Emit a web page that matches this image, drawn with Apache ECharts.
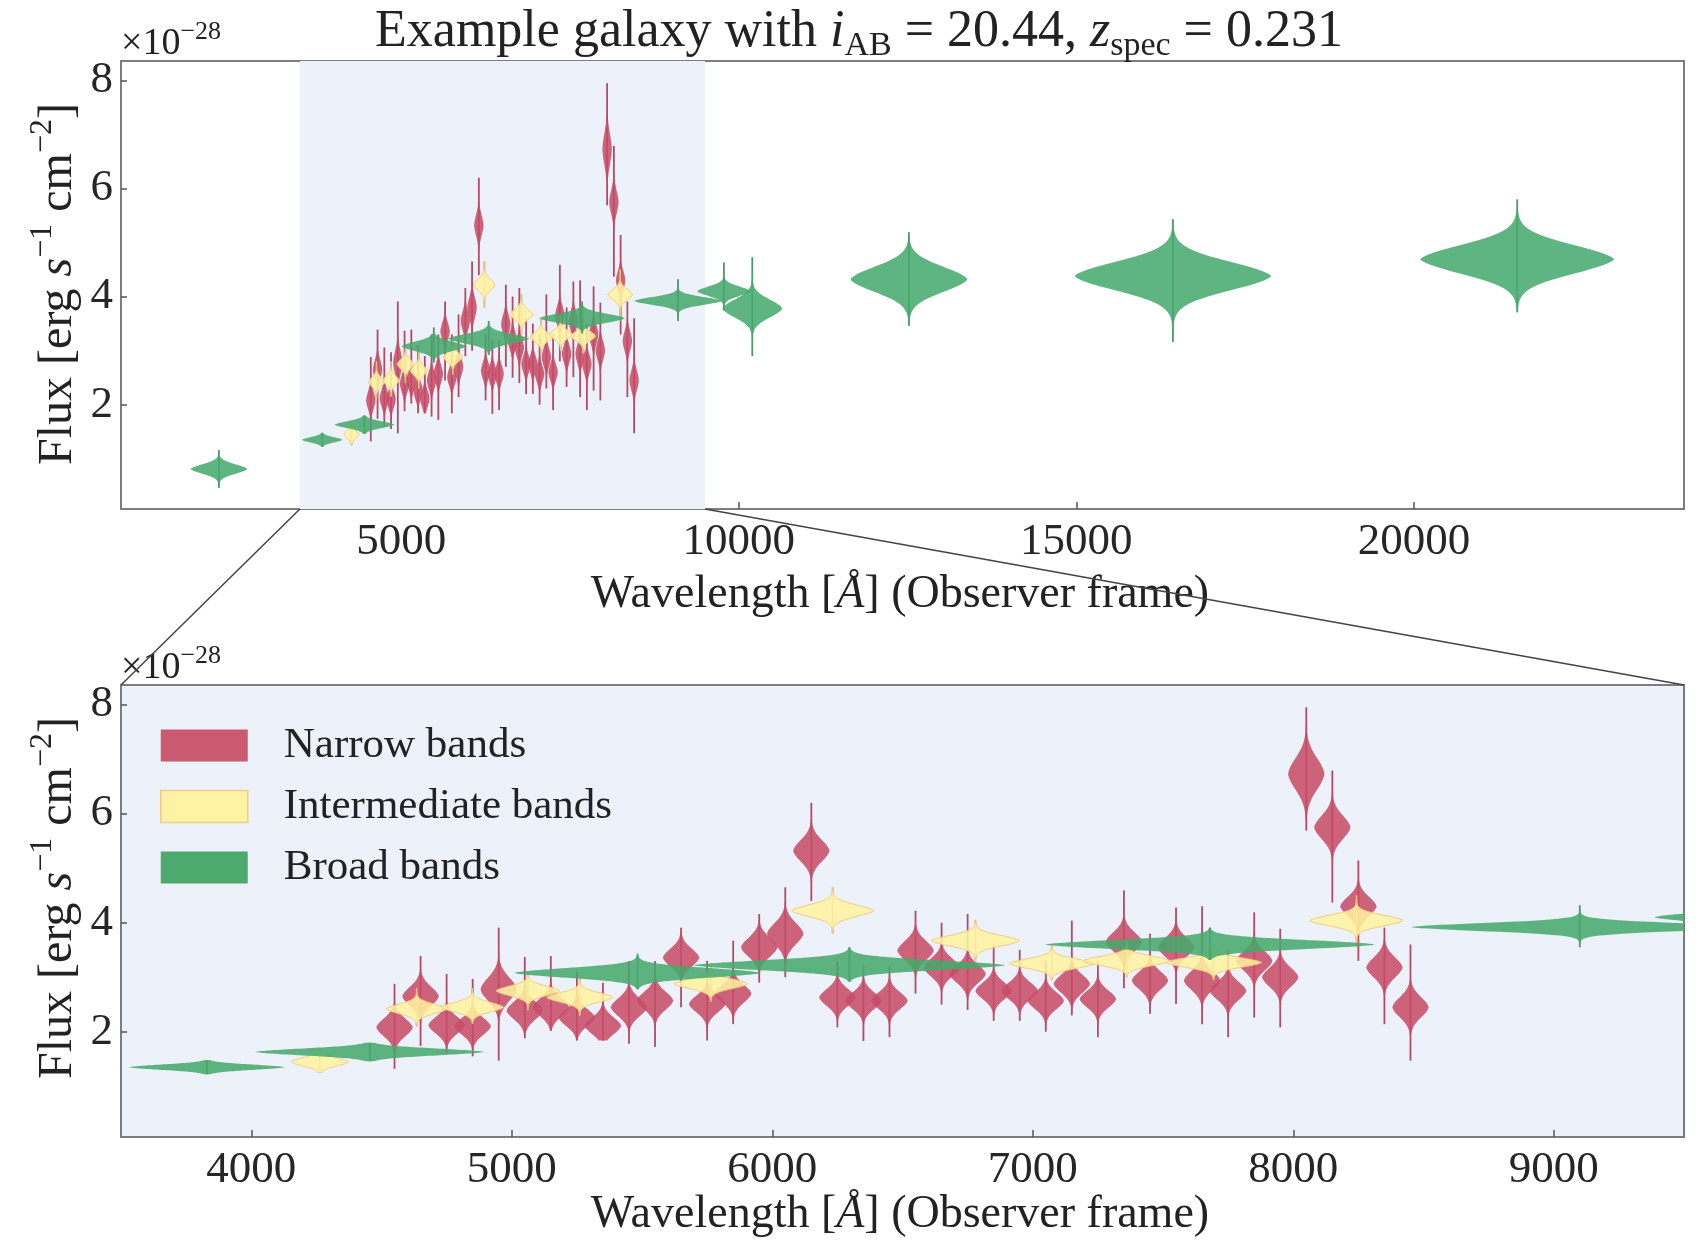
<!DOCTYPE html>
<html>
<head>
<meta charset="utf-8">
<script src="https://cdn.jsdelivr.net/npm/echarts@6/dist/echarts.min.js"></script>
<style>
  html, body { margin: 0; padding: 0; background: #fff; }
  #chart { width: 1696px; height: 1251px; }
</style>
</head>
<body>
<div id="chart"></div>
<script>
// narrow bands: centre wavelength, median flux, spread, extremes (x1e-28)
const nbWave = [4550, 4650, 4750, 4850, 4950, 5050, 5150, 5250, 5350, 5450,
                5550, 5650, 5750, 5850, 5950, 6050, 6150, 6250, 6350, 6450,
                6550, 6650, 6750, 6850, 6950, 7050, 7150, 7250, 7350, 7450,
                7550, 7650, 7750, 7850, 7950, 8050, 8150, 8250, 8350, 8450]
const nbFlux = [2.08, 2.65, 2.12, 2.10, 2.78, 2.39, 2.45, 2.26, 2.11, 2.45,
                2.57, 3.36, 2.51, 2.70, 3.55, 3.80, 5.32, 2.63, 2.57, 2.57,
                3.49, 3.18, 3.06, 2.75, 2.75, 2.57, 2.88, 2.60, 3.65, 2.94,
                3.55, 2.94, 2.75, 3.30, 3.00, 6.73, 5.75, 4.30, 3.18, 2.45]
const nbSigma = [0.17, 0.18, 0.16, 0.16, 0.22, 0.17, 0.17, 0.16, 0.16, 0.17,
                 0.17, 0.17, 0.16, 0.17, 0.18, 0.20, 0.20, 0.16, 0.16, 0.16,
                 0.18, 0.17, 0.17, 0.16, 0.16, 0.16, 0.17, 0.16, 0.18, 0.17,
                 0.18, 0.18, 0.17, 0.18, 0.18, 0.30, 0.22, 0.18, 0.19, 0.19]
const nbLo = [1.32, 1.74, 1.60, 1.55, 1.47, 1.88, 2.02, 1.84, 1.84, 1.78,
              1.72, 2.45, 1.84, 2.14, 2.90, 3.00, 4.40, 2.08, 1.83, 1.90,
              2.70, 2.50, 2.40, 2.20, 2.20, 2.00, 2.30, 1.90, 2.80, 2.33,
              2.51, 2.14, 1.90, 2.26, 2.08, 5.69, 4.37, 3.30, 2.14, 1.47]
const nbHi = [2.88, 3.39, 3.06, 2.97, 3.91, 3.37, 3.39, 3.10, 2.90, 3.30,
              3.30, 3.91, 3.30, 3.67, 4.16, 4.65, 6.20, 3.30, 3.20, 3.20,
              4.22, 4.00, 4.16, 3.60, 3.50, 3.30, 4.04, 3.30, 4.59, 3.80,
              4.28, 4.30, 3.50, 4.19, 3.89, 7.95, 6.79, 5.14, 3.91, 3.60]
const nbWidth = 140

// intermediate bands
const ibWave = [4263, 4635, 4849, 5062, 5261, 5764, 6232, 6780, 7073, 7361, 7694, 8243]
const ibFlux = [1.45, 2.42, 2.45, 2.75, 2.63, 2.88, 4.22, 3.67, 3.25, 3.30, 3.27, 4.04]
const ibWidth = [220, 235, 240, 245, 255, 285, 315, 340, 325, 335, 370, 360]
const ibSigma = [0.08, 0.09, 0.09, 0.09, 0.09, 0.09, 0.11, 0.10, 0.09, 0.09, 0.09, 0.10]
const ibLo = [1.25, 2.10, 2.15, 2.40, 2.30, 2.55, 3.80, 3.30, 2.95, 3.00, 2.95, 3.55]
const ibHi = [1.70, 2.80, 2.80, 3.10, 3.00, 3.20, 4.65, 4.05, 3.60, 3.65, 3.60, 4.50]

// broad bands
const bbWave = [2300, 3830, 4455, 5483, 6296, 7680, 9100, 9780, 10200, 12520, 16430, 21530]
const bbFlux = [0.81, 1.35, 1.63, 3.08, 3.22, 3.60, 3.92, 4.10, 3.78, 4.32, 4.38, 4.69]
const bbWidth = [840, 600, 880, 950, 1200, 1270, 1300, 790, 890, 1735, 2920, 2880]
const bbSigma = [0.09, 0.05, 0.065, 0.09, 0.09, 0.085, 0.075, 0.09, 0.17, 0.24, 0.27, 0.27]
const bbLo = [0.46, 1.22, 1.46, 2.78, 2.92, 3.32, 3.55, 3.75, 2.90, 3.46, 3.16, 3.71]
const bbHi = [1.16, 1.48, 1.80, 3.43, 3.55, 3.91, 4.32, 4.63, 4.73, 5.19, 5.43, 5.80]

// axes
const topRange = [850, 24000]
const zoomRange = [3500, 9500]
const yRange = [0.07, 8.36]
const topTicks = [5000, 10000, 15000, 20000]
const bottomTicks = [4000, 5000, 6000, 7000, 8000, 9000]
const yTicks = [2, 4, 6, 8]

const FONT = '"Liberation Serif", "Times New Roman", serif'
const RED = '#c64c66'
const YELLOW = '#fff3a0'
const GREEN = '#45a96c'
const SHADE = '#edf1f9'

const toRows = (wave, flux, width, sigma, lo, hi) =>
  wave.map((w, i) => [w, flux[i], Array.isArray(width) ? width[i] : width, sigma[i], lo[i], hi[i]])

const nbRows = toRows(nbWave, nbFlux, nbWidth, nbSigma, nbLo, nbHi)
const ibRows = toRows(ibWave, ibFlux, ibWidth, ibSigma, ibLo, ibHi)
const bbRows = toRows(bbWave, bbFlux, bbWidth, bbSigma, bbLo, bbHi)

// violin body + extrema bar, built through the axes
const violin = (fill, stroke, bar) => (params, api) => {
  const wave = api.value(0), flux = api.value(1), width = api.value(2)
  const sig = api.value(3), lo = api.value(4), hi = api.value(5)
  const right = [], left = []
  const n = 90
  for (let k = 0; k <= n; k++) {
    const y = lo + (hi - lo) * k / n
    const z = (y - flux) / sig
    const g = 0.85 * Math.exp(-z * z / 2) + 0.15 * Math.exp(-Math.abs(z))
    const hw = width / 2 * g
    right.push(api.coord([wave + hw, y]))
    left.push(api.coord([wave - hw, y]))
  }
  const top = api.coord([wave, hi])
  const bot = api.coord([wave, lo])
  return {
    type: 'group',
    children: [
      { type: 'line', shape: { x1: top[0], y1: top[1], x2: bot[0], y2: bot[1] },
        style: { stroke: bar, lineWidth: 1.8, opacity: 0.9 } },
      { type: 'polygon', shape: { points: right.concat(left.reverse()) },
        style: { fill: fill, opacity: 0.86, stroke: stroke, lineWidth: stroke ? 1 : 0 } }
    ]
  }
}

const shade = (params, api) => {
  const p0 = api.coord([api.value(0), yRange[1]])
  const p1 = api.coord([api.value(1), yRange[0]])
  return { type: 'rect', shape: { x: p0[0], y: p0[1], width: p1[0] - p0[0], height: p1[1] - p0[1] },
    style: { fill: SHADE } }
}

const makeSeries = (idx) => [
  { name: 'Narrow bands', type: 'custom', xAxisIndex: idx, yAxisIndex: idx, clip: true, z: 3,
    itemStyle: { color: RED }, renderItem: violin(RED, null, '#a83a55'), data: nbRows },
  { name: 'Intermediate bands', type: 'custom', xAxisIndex: idx, yAxisIndex: idx, clip: true, z: 4,
    itemStyle: { color: YELLOW }, renderItem: violin(YELLOW, '#f2c27c', '#c9a86e'), data: ibRows },
  { name: 'Broad bands', type: 'custom', xAxisIndex: idx, yAxisIndex: idx, clip: true, z: 5,
    itemStyle: { color: GREEN }, renderItem: violin(GREEN, null, '#3f8a5c'), data: bbRows }
]

const xAxisBase = (grid, range, ticks) => ({
  type: 'value', gridIndex: grid, min: range[0], max: range[1],
  axisLine: { show: false }, splitLine: { show: false },
  axisTick: { inside: true, length: 7, customValues: ticks, lineStyle: { color: '#555', width: 1.5 } },
  axisLabel: { customValues: ticks, formatter: v => String(v), fontFamily: FONT, fontSize: 45, color: '#262626', margin: 11 }
})
const yAxisBase = (grid) => ({
  type: 'value', gridIndex: grid, min: yRange[0], max: yRange[1],
  axisLine: { show: false }, splitLine: { show: false },
  axisTick: { inside: true, length: 6, customValues: yTicks, lineStyle: { color: '#555', width: 1.5 } },
  axisLabel: { customValues: yTicks, fontFamily: FONT, fontSize: 45, color: '#262626', margin: 8 }
})

const chart = echarts.init(document.getElementById('chart'))
chart.setOption({
  animation: false,
  backgroundColor: '#fff',
  grid: [
    { left: 121, top: 61, width: 1563, height: 448, show: true, borderColor: '#7d7d7d', borderWidth: 2, backgroundColor: 'transparent' },
    { left: 121, top: 685, width: 1563, height: 452, show: true, borderColor: '#7d7d7d', borderWidth: 2, backgroundColor: SHADE }
  ],
  xAxis: [xAxisBase(0, topRange, topTicks), xAxisBase(1, zoomRange, bottomTicks)],
  yAxis: [yAxisBase(0), yAxisBase(1)],
  legend: {
    left: 155, top: 719, orient: 'vertical', icon: 'rect', itemWidth: 87, itemHeight: 32, itemGap: 18,
    selectedMode: false,
    textStyle: { fontFamily: FONT, fontSize: 43, color: '#222', lineHeight: 43, padding: [0, 0, 0, 31] },
    data: [
      { name: 'Narrow bands', itemStyle: { color: '#cb5a70' } },
      { name: 'Intermediate bands', itemStyle: { color: '#fff3a3', borderColor: '#f3c98c', borderWidth: 1.5 } },
      { name: 'Broad bands', itemStyle: { color: '#4caa6e' } }
    ]
  },
  series: [
    { type: 'custom', xAxisIndex: 0, yAxisIndex: 0, z: 1, silent: true, renderItem: shade, data: [zoomRange] },
    ...makeSeries(0),
    ...makeSeries(1)
  ]
})

// text with sub/superscripts, laid out piece by piece
const ctx = document.createElement('canvas').getContext('2d')
function mathText(parts, x, y, align, rotation) {
  let w = 0
  const items = parts.map(p => {
    ctx.font = (p.i ? 'italic ' : '') + p.s + 'px ' + FONT
    const pw = ctx.measureText(p.t).width
    const it = { p: p, x: w }
    w += pw
    return it
  })
  const off = align === 'center' ? -w / 2 : 0
  return {
    type: 'group', x: x, y: y, rotation: rotation || 0, silent: true,
    children: items.map(it => ({
      type: 'text', x: it.x + off, y: it.p.dy || 0,
      style: { text: it.p.t, fontFamily: FONT, fontSize: it.p.s, fontStyle: it.p.i ? 'italic' : 'normal',
        fill: '#222', align: 'left', verticalAlign: 'middle' }
    }))
  }
}

const fluxLabel = [
  { t: 'Flux [erg ', s: 48 }, { t: 's', s: 48, i: true }, { t: '\u22121', s: 32, dy: -15 },
  { t: ' cm', s: 48 }, { t: '\u22122', s: 32, dy: -15 }, { t: ']', s: 48 }
]
const waveLabel = [
  { t: 'Wavelength [', s: 46 }, { t: '\u00c5', s: 46, i: true }, { t: '] (Observer frame)', s: 46 }
]
const offsetLabel = [{ t: '\u00d710', s: 38 }, { t: '\u221228', s: 26, dy: -12 }]

const lt = chart.convertToPixel({ xAxisIndex: 0, yAxisIndex: 0 }, [zoomRange[0], yRange[0]])
const rt = chart.convertToPixel({ xAxisIndex: 0, yAxisIndex: 0 }, [zoomRange[1], yRange[0]])
const lb = chart.convertToPixel({ xAxisIndex: 1, yAxisIndex: 1 }, [zoomRange[0], yRange[1]])
const rb = chart.convertToPixel({ xAxisIndex: 1, yAxisIndex: 1 }, [zoomRange[1], yRange[1]])

chart.setOption({
  graphic: [
    mathText([
      { t: 'Example galaxy with ', s: 52 }, { t: 'i', s: 52, i: true }, { t: 'AB', s: 34, dy: 14 },
      { t: ' = 20.44, ', s: 52 }, { t: 'z', s: 52, i: true }, { t: 'spec', s: 34, dy: 14 },
      { t: ' = 0.231', s: 52 }
    ], 859, 32, 'center'),
    mathText(offsetLabel, 121, 44, 'left'),
    mathText(offsetLabel, 121, 668, 'left'),
    mathText(fluxLabel, 58, 284, 'center', Math.PI / 2),
    mathText(fluxLabel, 58, 898, 'center', Math.PI / 2),
    mathText(waveLabel, 900, 595, 'center'),
    mathText(waveLabel, 900, 1215, 'center'),
    { type: 'line', silent: true, shape: { x1: lt[0], y1: lt[1], x2: lb[0], y2: lb[1] }, style: { stroke: '#444', lineWidth: 1.5 } },
    { type: 'line', silent: true, shape: { x1: rt[0], y1: rt[1], x2: rb[0], y2: rb[1] }, style: { stroke: '#444', lineWidth: 1.5 } }
  ]
})
</script>
</body>
</html>
